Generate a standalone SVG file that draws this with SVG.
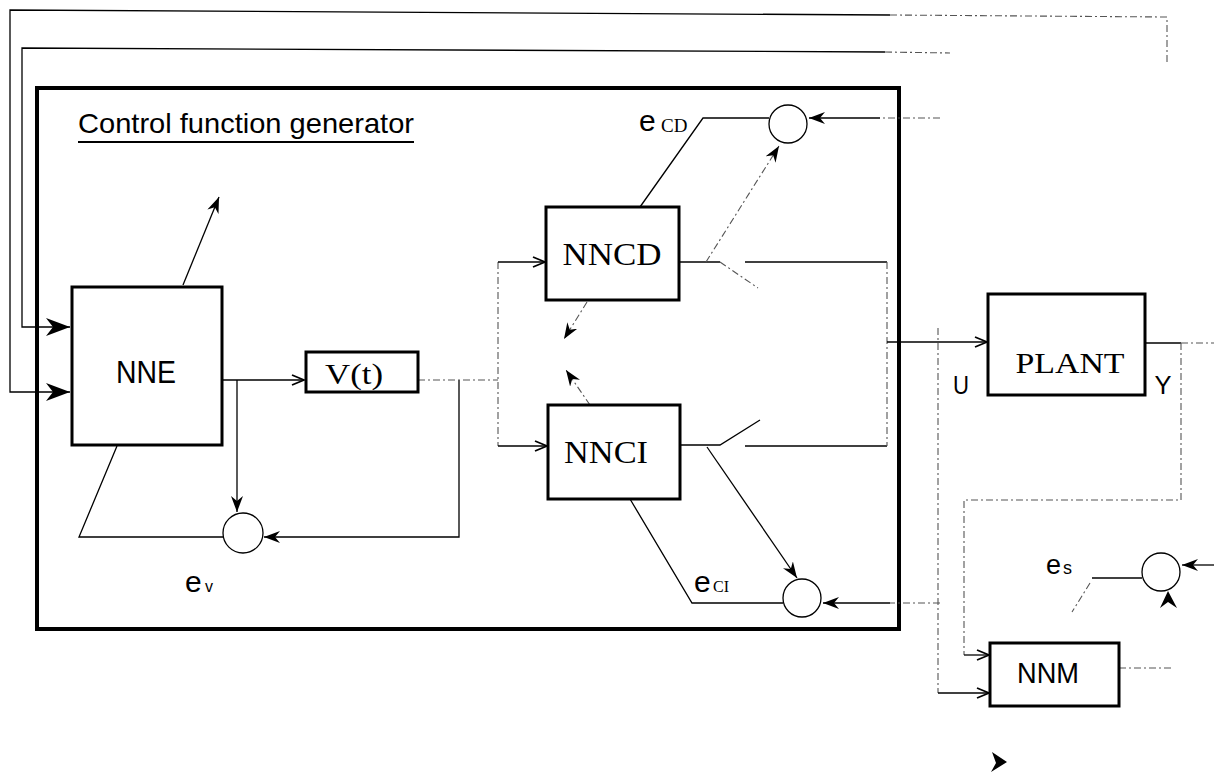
<svg xmlns="http://www.w3.org/2000/svg" width="1214" height="774" viewBox="0 0 1214 774">
<style>
.box{fill:#fff;stroke:#000;stroke-width:3}
.ln{fill:none;stroke:#000;stroke-width:1.3}
.f{fill:none;stroke:#555;stroke-width:1.1;stroke-dasharray:7 3 2 3}
.c{fill:#fff;stroke:#000;stroke-width:1.3}
.sans{font-family:"Liberation Sans",Arial,sans-serif;fill:#000}
.serif{font-family:"Liberation Serif","Times New Roman",serif;fill:#000}
</style>
<defs>
<marker id="open" viewBox="0 0 14 12" refX="13" refY="6" markerWidth="14" markerHeight="12" markerUnits="userSpaceOnUse" orient="auto">
<path d="M1,1 L13,6 L1,11" fill="none" stroke="#000" stroke-width="1.8"/>
</marker>
<marker id="barb" viewBox="0 0 16 12" refX="16" refY="6" markerWidth="16" markerHeight="12" markerUnits="userSpaceOnUse" orient="auto">
<path d="M0,0 L16,6 L0,12 L5,6 z" fill="#000"/>
</marker>
<marker id="big" viewBox="0 0 24 18" refX="24" refY="9" markerWidth="24" markerHeight="18" markerUnits="userSpaceOnUse" orient="auto">
<path d="M0,0 L24,9 L0,18 L7,9 z" fill="#000"/>
</marker>
</defs>
<rect width="1214" height="774" fill="#fff"/>

<g id="outer-box">
<rect x="37" y="88" width="862" height="541" fill="none" stroke="#000" stroke-width="4"/>
<text class="sans" x="78" y="133" font-size="28" textLength="336" lengthAdjust="spacingAndGlyphs">Control function generator</text>
<line x1="78" y1="142" x2="414" y2="142" stroke="#000" stroke-width="2"/>
</g>

<g id="connectors">
<!-- outer feedback lines -->
<path class="ln" d="M890,15 L10,10 L10,392 L70,392" marker-end="url(#big)"/>
<path class="f" d="M890,15 L1167,17 L1167,65"/>
<path class="ln" d="M885,52 L22,48 L22,327 L70,327" marker-end="url(#big)"/>
<path class="f" d="M885,52 L950,53"/>
<!-- NNE top output -->
<path class="ln" d="M183,285 L219,197" marker-end="url(#barb)"/>
<!-- NNE to V(t) -->
<path class="ln" d="M222,380 L304,380" marker-end="url(#open)"/>
<path class="ln" d="M237,380 L237,512" marker-end="url(#barb)"/>
<!-- ev loop -->
<path class="ln" d="M223,537 L79,537 L117,446"/>
<path class="ln" d="M459,380 L459,537 L264,537" marker-end="url(#barb)"/>
<!-- V(t) output distribution -->
<path class="f" d="M418,380 L498,380"/>
<path class="f" d="M498,262 L498,446"/>
<path class="ln" d="M498,262 L545,262" marker-end="url(#open)"/>
<path class="ln" d="M498,446 L547,446" marker-end="url(#open)"/>
<!-- NNCD / NNCI inner arrows -->
<path class="f" d="M587,302 L564,339" marker-end="url(#barb)"/>
<path class="f" d="M590,405 L566,370" marker-end="url(#barb)"/>
<!-- NNCD output and switch -->
<path class="ln" d="M680,262 L720,262"/>
<path class="f" d="M720,262 L758,288"/>
<path class="f" d="M706,262 L779,146" marker-end="url(#barb)"/>
<path class="ln" d="M745,262 L887,262"/>
<!-- NNCI output and switch -->
<path class="ln" d="M680,445 L720,445 L760,420"/>
<path class="ln" d="M745,446 L887,446"/>
<path class="f" d="M887,262 L887,446"/>
<path class="ln" d="M707,447 L797,578" marker-end="url(#barb)"/>
<!-- error lines -->
<path class="ln" d="M640,207 L703,118 L769,118"/>
<path class="ln" d="M630,499 L692,603 L783,603"/>
<path class="f" d="M940,118 L880,118"/>
<path class="ln" d="M880,118 L809,118" marker-end="url(#barb)"/>
<path class="f" d="M940,603 L890,603"/>
<path class="ln" d="M890,603 L823,603" marker-end="url(#barb)"/>
<!-- U to plant -->
<path class="ln" d="M887,342 L987,342" marker-end="url(#open)"/>
<path class="f" d="M938,328 L938,693"/>
<path class="ln" d="M938,693 L989,693" marker-end="url(#open)"/>
<!-- Y output -->
<path class="ln" d="M1145,343 L1181,343"/>
<path class="f" d="M1181,343 L1214,343"/>
<path class="f" d="M1181,343 L1181,500 L964,500 L964,655"/>
<path class="ln" d="M964,655 L989,655" marker-end="url(#open)"/>
<!-- NNM output -->
<path class="f" d="M1119,668 L1172,668"/>
<!-- es -->
<path class="ln" d="M1214,565 L1182,565" marker-end="url(#barb)"/>
<polygon points="1168,591 1177,608 1168,602 1160,608" fill="#000"/>
<path class="ln" d="M1142,578 L1092,578"/>
<path class="f" d="M1090,583 L1072,612"/>
<polygon points="992,752 1007,762 991,772 996,763" fill="#000"/>
</g>

<g id="node-NNE">
<rect class="box" x="72" y="287" width="150" height="158"/>
<text class="sans" x="146" y="383" font-size="31" text-anchor="middle" textLength="60" lengthAdjust="spacingAndGlyphs">NNE</text>
</g>
<g id="node-Vt">
<rect class="box" x="306" y="352" width="112" height="40"/>
<text class="serif" x="354" y="384" font-size="29" text-anchor="middle" textLength="58" lengthAdjust="spacingAndGlyphs">V(t)</text>
</g>
<g id="node-NNCD">
<rect class="box" x="546" y="207" width="133" height="93"/>
<text class="serif" x="612" y="265" font-size="32" text-anchor="middle" textLength="99" lengthAdjust="spacingAndGlyphs">NNCD</text>
</g>
<g id="node-NNCI">
<rect class="box" x="548" y="405" width="132" height="94"/>
<text class="serif" x="606" y="463" font-size="32" text-anchor="middle" textLength="84" lengthAdjust="spacingAndGlyphs">NNCI</text>
</g>
<g id="node-PLANT">
<rect class="box" x="988" y="294" width="157" height="101"/>
<text class="serif" x="1070" y="373" font-size="30" text-anchor="middle" textLength="109" lengthAdjust="spacingAndGlyphs">PLANT</text>
</g>
<g id="node-NNM">
<rect class="box" x="990" y="643" width="129" height="63"/>
<text class="sans" x="1048" y="683" font-size="29" text-anchor="middle" textLength="62" lengthAdjust="spacingAndGlyphs">NNM</text>
</g>

<g id="sum-ev">
<circle class="c" cx="243" cy="533" r="20"/>
<text class="sans" x="185" y="592" font-size="30">e</text>
<text class="sans" x="205" y="592" font-size="16">v</text>
</g>
<g id="sum-ecd">
<circle class="c" cx="788" cy="124" r="19"/>
<text class="sans" x="639" y="131" font-size="30">e</text>
<text class="serif" x="661" y="132" font-size="19">CD</text>
</g>
<g id="sum-eci">
<circle class="c" cx="802" cy="598" r="19"/>
<text class="sans" x="694" y="592" font-size="30">e</text>
<text class="serif" x="713" y="592" font-size="16">CI</text>
</g>
<g id="sum-es">
<circle class="c" cx="1161" cy="572" r="19"/>
<text class="sans" x="1046" y="574" font-size="27">e</text>
<text class="sans" x="1063" y="574" font-size="18">s</text>
</g>
<g id="labels">
<text class="sans" x="961" y="394" font-size="26" text-anchor="middle" textLength="16" lengthAdjust="spacingAndGlyphs">U</text>
<text class="sans" x="1163" y="394" font-size="26" text-anchor="middle" textLength="17" lengthAdjust="spacingAndGlyphs">Y</text>
</g>
</svg>
